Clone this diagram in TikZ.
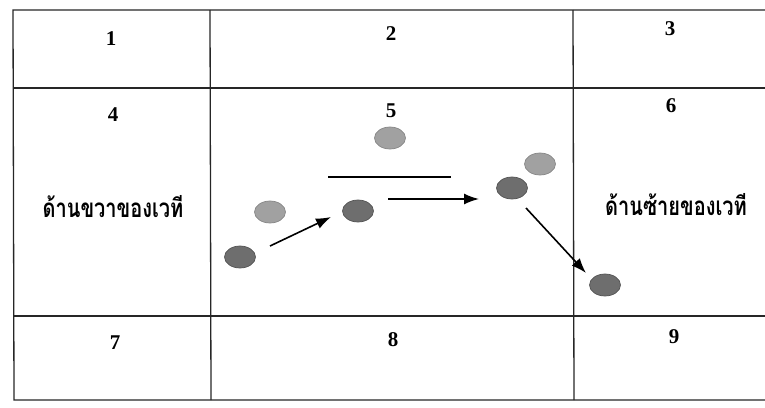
\documentclass[tikz,border=0pt]{standalone}
\usepackage{fontspec}
\setmainfont{Liberation Serif}
\newfontfamily\thaifont[Script=Thai]{Loma}
\usetikzlibrary{shapes.geometric,arrows.meta}
\begin{document}
\begin{tikzpicture}[x=1pt,y=-1pt,
  gridline/.style={line width=1.3pt,black!85},
  num/.style={font=\fontsize{21}{22}\selectfont\bfseries,inner sep=0pt},
  thaitext/.style={font=\thaifont\fontsize{20}{22}\selectfont\bfseries,inner sep=0pt},
  lightdot/.style={ellipse,minimum width=31pt,minimum height=22pt,inner sep=0pt,fill=black!37,draw=black!47,line width=0.7pt},
  darkdot/.style={ellipse,minimum width=31pt,minimum height=22pt,inner sep=0pt,fill=black!57,draw=black!67,line width=0.7pt},
  mv/.style={line width=1.6pt,-{Latex[length=15pt,width=11pt]}}]
\useasboundingbox (0,0) rectangle (765,407);
% grid
\coordinate (tl) at (13,10);
\coordinate (tr) at (765,10);
\coordinate (bl) at (14,400);
\coordinate (br) at (765,400);
\coordinate (h1l) at (13,88);
\coordinate (h1r) at (765,88);
\coordinate (h2l) at (14,316);
\coordinate (h2r) at (765,316);
\coordinate (v1t) at (210,10);
\coordinate (v1b) at (211,400);
\coordinate (v2t) at (573,10);
\coordinate (v2b) at (574,400);
\draw[gridline] (tr) -- (tl) -- (bl) -- (br);
\draw[gridline] (h1l) -- (h1r);
\draw[gridline] (h2l) -- (h2r);
\draw[gridline] (v1t) -- (v1b);
\draw[gridline] (v2t) -- (v2b);
% numbers
\node[num] (n1) at (111,39) {1};
\node[num] (n2) at (391,34) {2};
\node[num] (n3) at (670,29) {3};
\node[num] (n4) at (113,115) {4};
\node[num] (n5) at (391,111) {5};
\node[num] (n6) at (671,106) {6};
\node[num] (n7) at (115,343) {7};
\node[num] (n8) at (393,340) {8};
\node[num] (n9) at (674,337) {9};
% labels
\node[thaitext] (right) at (113,207) {\scalebox{1.0}[1.3]{ด้านขวาของเวที}};
\node[thaitext] (left) at (676,205) {\scalebox{1.0}[1.3]{ด้านซ้ายของเวที}};
% line
\coordinate (la) at (328,177);
\coordinate (lb) at (451,177);
\draw[line width=1.5pt] (la) -- (lb);
% dots
\node[lightdot] (d1) at (390,138) {};
\node[lightdot] (d2) at (270,212) {};
\node[darkdot] (d3) at (240,257) {};
\node[darkdot] (d4) at (358,211) {};
\node[lightdot] (d5) at (540,164) {};
\node[darkdot] (d6) at (512,188) {};
\node[darkdot] (d7) at (605,285) {};
% arrows
\coordinate (a1s) at (270,246);
\coordinate (a1e) at (331,217);
\coordinate (a2s) at (388,199);
\coordinate (a2e) at (479,199);
\coordinate (a3s) at (526,208);
\coordinate (a3e) at (586,273);
\draw[mv] (a1s) -- (a1e);
\draw[mv] (a2s) -- (a2e);
\draw[mv] (a3s) -- (a3e);
\end{tikzpicture}
\end{document}
